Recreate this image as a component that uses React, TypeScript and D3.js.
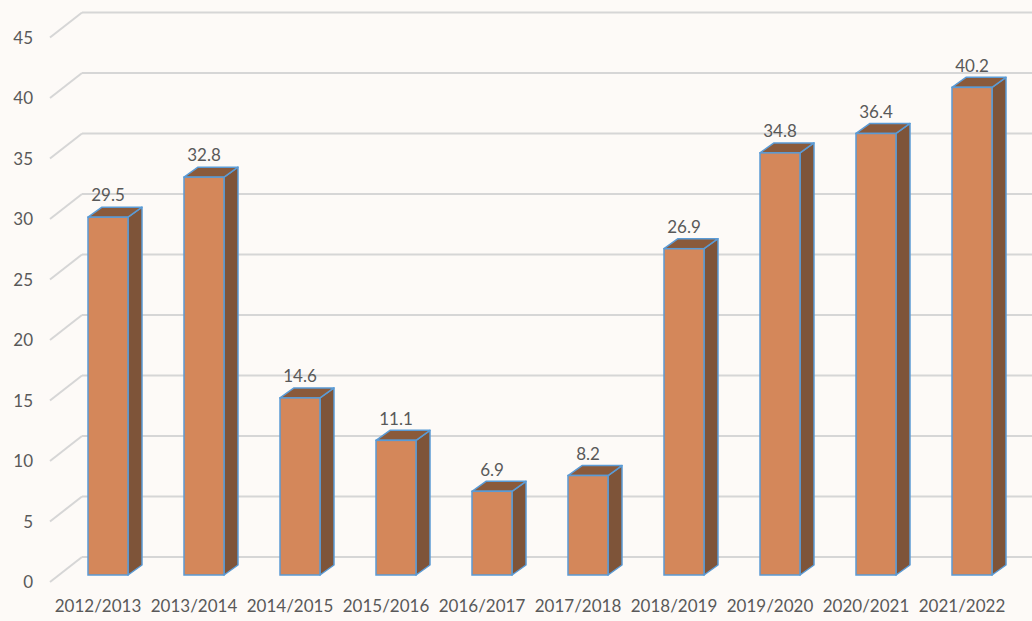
import React from "react";
import * as d3 from "d3";

const categories = ["2012/2013","2013/2014","2014/2015","2015/2016","2016/2017","2017/2018","2018/2019","2019/2020","2020/2021","2021/2022"];
const values = [29.5, 32.8, 14.6, 11.1, 6.9, 8.2, 26.9, 34.8, 36.4, 40.2];
const yTicks = [0, 5, 10, 15, 20, 25, 30, 35, 40, 45];

const W = 1032, H = 621;
const DX = 14, DY = 10;
const FONT = "Lato, 'Open Sans', sans-serif";
const TXT = "#595959";

export default function App() {
  const step = 96;
  const pIn = 1 - 40 / 96;
  const pOut = 0.3;
  const start = 88 - pOut * step;
  const x = d3.scaleBand<string>().domain(categories)
    .range([start, start + step * (categories.length - pIn + 2 * pOut)])
    .paddingInner(pIn).paddingOuter(pOut);
  const bw = x.bandwidth();
  const yFront = d3.scaleLinear().domain([0, 45]).range([575, 575 - 45 * 12.13]);
  const yBack = d3.scaleLinear().domain([0, 45]).range([557, 557 - 45 * 12.1]);

  return (
    <svg width={W} height={H} style={{ position: "absolute", left: 0, top: 0, display: "block" }}>
      <rect x={0} y={0} width={W} height={H} fill="#FDFAF7" />
      {yTicks.map((t) => (
        <g key={t}>
          <line x1={82} x2={W} y1={yBack(t)} y2={yBack(t)} stroke="#D6D6D6" strokeWidth={2} />
          <line x1={50} y1={yBack(t) + 25} x2={82} y2={yBack(t)} stroke="#D6D6D6" strokeWidth={2} />
          <text x={33} y={yBack(t) + 27} textAnchor="end" dominantBaseline="middle" fontFamily={FONT} fontSize={17} fill={TXT}>{t}</text>
        </g>
      ))}
      {categories.map((c, i) => {
        const v = values[i];
        const x0 = x(c) as number, x1 = x0 + bw;
        const top = yFront(v), bot = yFront(0);
        return (
          <g key={c}>
            <polygon points={`${x1},${top} ${x1 + DX},${top - DY} ${x1 + DX},${bot - DY} ${x1},${bot}`} fill="#7E5439" stroke="#5B9BD5" strokeWidth={1.5} strokeLinejoin="round" />
            <polygon points={`${x0},${top} ${x0 + DX},${top - DY} ${x1 + DX},${top - DY} ${x1},${top}`} fill="#8A5A3B" stroke="#5B9BD5" strokeWidth={1.5} strokeLinejoin="round" />
            <rect x={x0} y={top} width={bw} height={bot - top} fill="#D4875A" stroke="#5B9BD5" strokeWidth={1.5} />
            <text x={(x0 + x1) / 2} y={top - 20} textAnchor="middle" dominantBaseline="middle" fontFamily={FONT} fontSize={17} fill={TXT}>{v.toFixed(1)}</text>
          </g>
        );
      })}
      {categories.map((c) => (
        <text key={c} x={(x(c) as number) + 10} y={608} textAnchor="middle" dominantBaseline="middle" fontFamily={FONT} fontSize={17} fill={TXT}>{c}</text>
      ))}
    </svg>
  );
}
